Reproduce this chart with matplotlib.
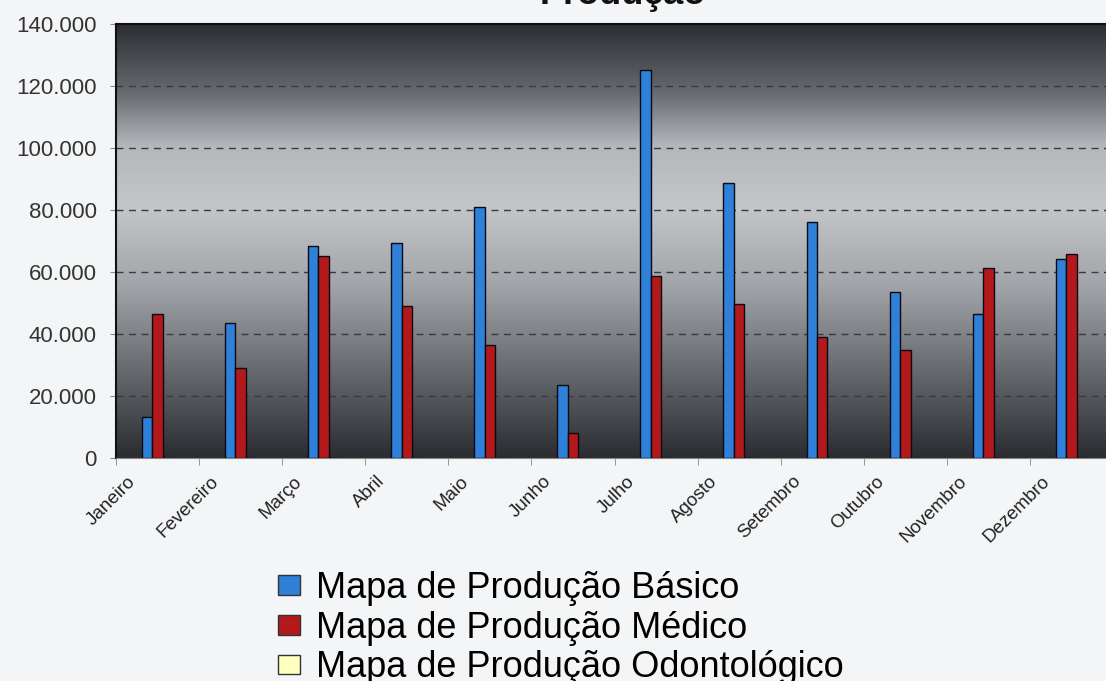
import numpy as np
import matplotlib
matplotlib.use('Agg')
import matplotlib.pyplot as plt
from matplotlib.colors import LinearSegmentedColormap
from matplotlib.patches import Patch
from matplotlib.ticker import FuncFormatter, MultipleLocator

plt.rcParams['font.family'] = ['Liberation Sans', 'DejaVu Sans']

meses = ['Janeiro', 'Fevereiro', 'Março', 'Abril', 'Maio', 'Junho',
         'Julho', 'Agosto', 'Setembro', 'Outubro', 'Novembro', 'Dezembro']
basico = [13300, 43400, 68400, 69400, 81100, 23500,
          125200, 88600, 76200, 53600, 46500, 64100]
medico = [46300, 29000, 65200, 49000, 36600, 8000,
          58800, 49700, 39000, 34900, 61400, 65700]
odonto = [0, 0, 0, 0, 0, 0, 0, 0, 0, 0, 0, 0]
series_nomes = ['Mapa de Produção Básico', 'Mapa de Produção Médico',
                'Mapa de Produção Odontológico']

cor_basico = '#2f80d8'
cor_medico = '#b3191b'
cor_odonto = '#ffffc0'

W, H = 1106, 681
fig = plt.figure(figsize=(W / 100, H / 100), dpi=100)
fig.patch.set_facecolor('#f3f5f7')

ax = fig.add_axes([116 / W, (H - 458) / H, (1113 - 116) / W, 434 / H])
ax.set_xlim(0, 12)
ax.set_ylim(0, 140000)

# fundo em degradê (escuro - claro - escuro)
grad = LinearSegmentedColormap.from_list('fundo', [
    (0.00, '#2a2c31'),
    (0.16, '#5a5d62'),
    (0.40, '#a2a5a9'),
    (0.58, '#c4c6c8'),
    (0.72, '#b4b7bb'),
    (0.84, '#686b70'),
    (1.00, '#2c2e33'),
])
ax.imshow(np.linspace(1, 0, 256).reshape(-1, 1), cmap=grad, aspect='auto',
          extent=[0, 12, 0, 140000], zorder=0, interpolation='bicubic')

x = np.arange(len(meses)) + 0.5
w = 0.126
ax.bar(x - w, basico, w, color=cor_basico, edgecolor='#0a0a14', linewidth=1, zorder=3)
ax.bar(x, medico, w, color=cor_medico, edgecolor='#0a0a14', linewidth=1, zorder=3)
ax.bar(x + w, odonto, w, color=cor_odonto, edgecolor='#0a0a14', linewidth=1, zorder=3)

ax.yaxis.set_major_locator(MultipleLocator(20000))
ax.yaxis.set_major_formatter(FuncFormatter(lambda v, p: f'{int(v):,}'.replace(',', '.')))
for v in range(20000, 140000, 20000):
    ax.axhline(v, color='#3a3a3a', linestyle=(0, (5, 4)), linewidth=1, zorder=1)

ax.set_xticks(x - 0.29)
ax.set_xticklabels(meses, rotation=45, ha='right', va='center',
                   rotation_mode='anchor', fontsize=13.5, color='#222222')
ax.set_xticks(np.arange(0, 13), minor=True)
ax.tick_params(axis='x', which='major', length=0, pad=15)
ax.tick_params(axis='x', which='minor', length=5, color='#888888', direction='out')
ax.tick_params(axis='y', length=4, color='#888888', labelsize=16,
               labelcolor='#333333', pad=10)

for s in ['left', 'top']:
    ax.spines[s].set_color('#111111')
    ax.spines[s].set_linewidth(1.5)
ax.spines['bottom'].set_color('#888888')
ax.spines['right'].set_visible(False)

fig.text(623 / W, 1 - 4 / H, 'Produção', ha='center', va='baseline',
         fontsize=26, fontweight='bold', color='#111111')

handles = [Patch(facecolor=c, edgecolor='#333333') for c in
           [cor_basico, cor_medico, cor_odonto]]
fig.legend(handles, series_nomes, loc='upper left',
           bbox_to_anchor=(278 / W, 1 - 571 / H), frameon=False,
           fontsize=26, handlelength=0.62, handleheight=0.45,
           handletextpad=0.42, labelspacing=0.13, borderaxespad=0,
           borderpad=0)

fig.savefig('out.png', dpi=100, facecolor=fig.get_facecolor())
